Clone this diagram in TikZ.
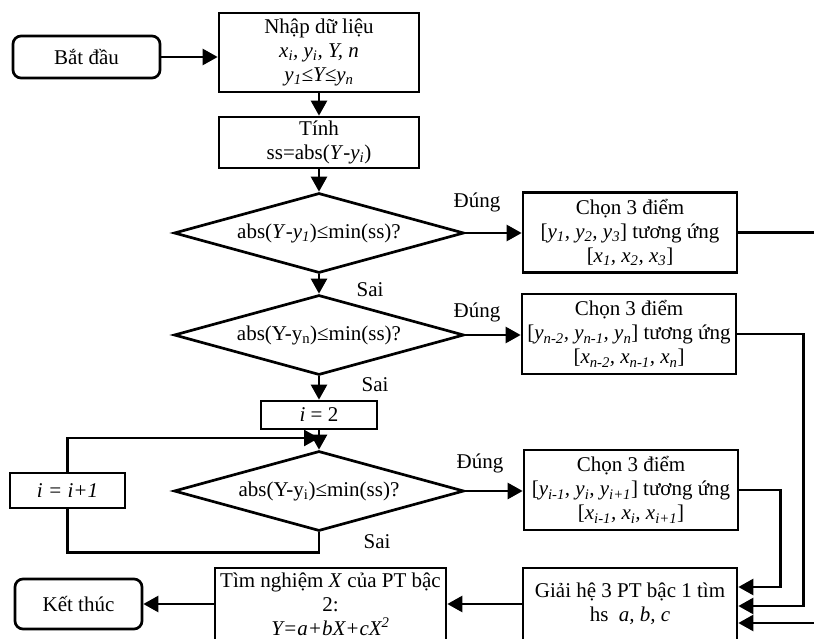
\documentclass[tikz,border=0pt]{standalone}
\usepackage{fontspec}
\setmainfont{Liberation Serif}
\usetikzlibrary{shapes.geometric,arrows.meta}
\begin{document}
\begin{tikzpicture}[x=1pt,y=-1pt,
  every node/.style={font=\fontsize{21}{24}\selectfont},
  box/.style={draw,line width=2.7pt,inner sep=0pt,align=center},
  term/.style={box,rounded corners=8pt},
  dia/.style={draw,line width=2.7pt,diamond,aspect=3.6,inner sep=0pt,minimum width=290pt,minimum height=80pt},
  line/.style={line width=2.6pt},
  arr/.style={line,-{Triangle[length=15pt,width=16pt]}},
  lbl/.style={inner sep=0pt}]
\useasboundingbox (0,0) rectangle (814,639);

% nodes
\node[term,minimum width=147pt,minimum height=42pt] (start) at (86.5,57) {Bắt đầu};
\node[box,minimum width=200pt,minimum height=79pt] (input) at (319,52.5)
  {Nhập dữ liệu\\ \textit{x\textsubscript{i}, y\textsubscript{i}, Y, n}\\ \textit{y\textsubscript{1}≤Y≤y\textsubscript{n}}};
\node[box,minimum width=200pt,minimum height=51pt] (calc) at (319,142.5)
  {Tính\\ ss=abs(\textit{Y}-\textit{y\textsubscript{i}})};
\node[dia] (d1) at (319,233) {abs(\textit{Y}-\textit{y\textsubscript{1}})≤min(ss)?};
\node[dia] (d2) at (319,335) {abs(Y-y\textsubscript{n})≤min(ss)?};
\node[box,minimum width=116pt,minimum height=28pt] (i2) at (319,415) {\textit{i} = 2};
\node[dia] (d3) at (319,491) {abs(Y-y\textsubscript{i})≤min(ss)?};
\node[box,minimum width=115pt,minimum height=35pt] (ii) at (67.5,490.5) {\textit{i = i+1}};

\node[box,minimum width=214pt,minimum height=80pt] (c1) at (630,232.5)
  {Chọn 3 điểm\\ {[}\textit{y\textsubscript{1}, y\textsubscript{2}, y\textsubscript{3}}] tương ứng\\ {[}\textit{x\textsubscript{1}, x\textsubscript{2}, x\textsubscript{3}}]};
\node[box,minimum width=214pt,minimum height=80pt] (c2) at (629,334)
  {Chọn 3 điểm\\ {[}\textit{y\textsubscript{n-2}, y\textsubscript{n-1}, y\textsubscript{n}}] tương ứng\\ {[}\textit{x\textsubscript{n-2}, x\textsubscript{n-1}, x\textsubscript{n}}]};
\node[box,minimum width=214pt,minimum height=80pt] (c3) at (631,490)
  {Chọn 3 điểm\\ {[}\textit{y\textsubscript{i-1}, y\textsubscript{i}, y\textsubscript{i+1}}] tương ứng\\ {[}\textit{x\textsubscript{i-1}, x\textsubscript{i}, x\textsubscript{i+1}}]};

\node[box,minimum width=214pt,minimum height=72pt] (giai) at (630,604)
  {Giải hệ 3 PT bậc 1 tìm\\ hs\ \ \textit{a, b, c}};
\node[box,minimum width=231pt,minimum height=72pt] (tim) at (330.5,604)
  {Tìm nghiệm \textit{X} của PT bậc\\ 2:\\ \textit{Y=a+bX+cX\textsuperscript{2}}};
\node[term,minimum width=127pt,minimum height=50pt] (end) at (78.5,604) {Kết thúc};

% labels
\node[lbl] (t1) at (477,202) {Đúng};
\node[lbl] (t2) at (477,312) {Đúng};
\node[lbl] (t3) at (480,463) {Đúng};
\node[lbl] (f1) at (370,290) {Sai};
\node[lbl] (f2) at (375,385) {Sai};
\node[lbl] (f3) at (377,542) {Sai};

% connectors
\draw[arr] (start.east) -- (start.east -| input.west);
\draw[arr] (input) -- (calc);
\draw[arr] (calc) -- (d1);
\draw[arr] (d1) -- (d2);
\draw[arr] (d2) -- (i2);
\draw[arr] (i2) -- (d3);
\draw[arr] (d1.east) -- (d1.east -| c1.west);
\draw[arr] (d2.east) -- (d2.east -| c2.west);
\draw[arr] (d3.east) -- (d3.east -| c3.west);
\draw[arr] (c1.east) -- ++(100,0) |- ([yshift=-19pt]giai.east);
\draw[arr] (c2.east) -- ++(66,0) |- ([yshift=-2pt]giai.east);
\draw[arr] (c3.east) -- ++(41,0) |- ([yshift=17pt]giai.east);
\draw[arr] (giai) -- (tim);
\draw[arr] (tim) -- (end);
\draw[line] (d3.south) -- ++(0,20) -| (ii.south);
\coordinate (j) at (319,438);
\draw[arr] (ii.north) |- (j);
\end{tikzpicture}
\end{document}
